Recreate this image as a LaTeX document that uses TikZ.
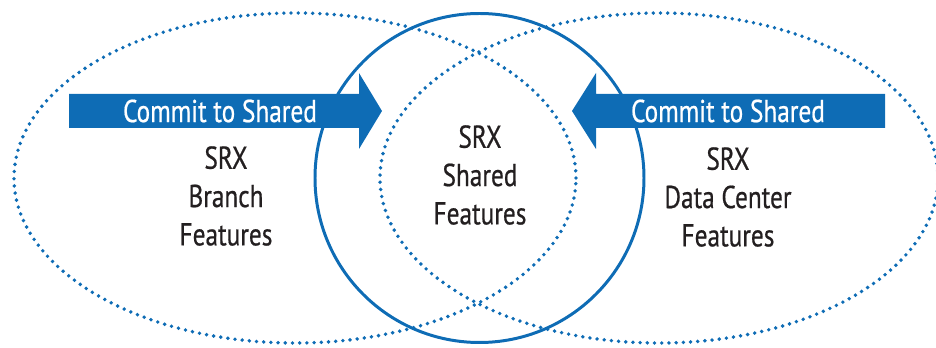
\documentclass[tikz,border=0pt]{standalone}
\usepackage{fontspec}
\setmainfont[FakeStretch=0.8]{PT Sans}
\newfontfamily\labelfont[FakeStretch=0.8,FakeBold=0.6]{PT Sans}
\usetikzlibrary{positioning}
\definecolor{srxblue}{RGB}{14,108,181}
\definecolor{srxtext}{RGB}{35,31,32}

\begin{document}
\begin{tikzpicture}[every node/.style={align=center,inner sep=0pt,
		font=\labelfont\fontsize{18}{21.8}\selectfont},
		featureset/.style={srxblue,line width=2.2pt,line cap=round,
		dash pattern=on 0pt off 4.1pt},
		sharedring/.style={srxblue,line width=1.7pt},
		commitarrow/.style={fill=srxblue},
		committext/.style={text=white},
		setlabel/.style={text=srxtext}
	]

	\useasboundingbox (0,0) rectangle (18.72,6.96);

	% Branch and data center sets
	\foreach \x/\r in {5.90/5.62, 13.18/5.58} {
		\draw[featureset] (\x,3.40) ellipse ({\r} and 3.30);
	}

	% Shared ring
	\draw[sharedring] (9.59,3.40) circle (3.29);

	% Commit arrows
	\foreach \b/\h/\t in {1.38/7.18/7.64, 17.70/11.92/11.44} {
		\fill[commitarrow] (\b,5.08) -- (\h,5.08) -- (\h,5.50) -- (\t,4.74)
			-- (\h,3.98) -- (\h,4.40) -- (\b,4.40) -- cycle;
	}

	% Labels
	\node[committext] (commitbranch) at (4.40,4.74) {Commit to Shared};
	\node[committext] (commitdc) at (14.56,4.74) {Commit to Shared};

	\node[setlabel] (branch) at (4.52,3.04) {SRX\\Branch\\Features};
	\node[setlabel] (shared) at (9.60,3.46) {SRX\\Shared\\Features};
	\node[setlabel] (datacenter) at (14.56,3.02) {SRX\\Data Center\\Features};

\end{tikzpicture}
\end{document}
